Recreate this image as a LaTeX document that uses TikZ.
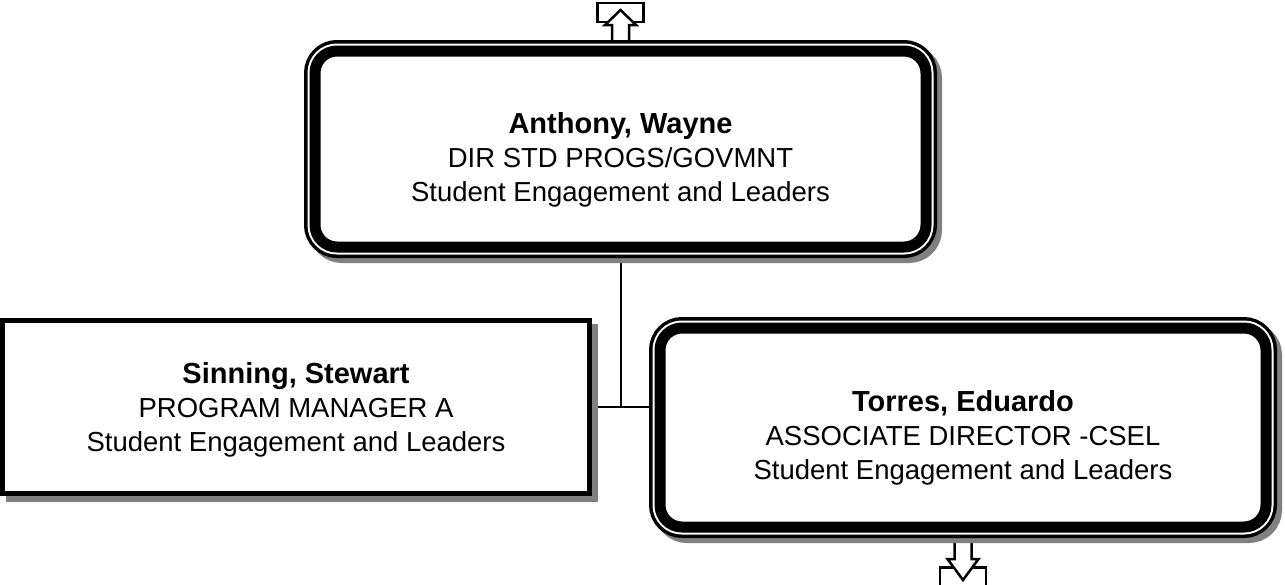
\documentclass[tikz,border=0pt]{standalone}
\usepackage{fontspec}
\setmainfont{Liberation Sans}
\usetikzlibrary{calc,backgrounds}
\definecolor{shadowgray}{RGB}{128,128,128}
\newcommand{\staffname}[1]{{\fontsize{29}{34}\selectfont\bfseries #1}}

\begin{document}
\begin{tikzpicture}[x=1pt, y=-1pt,
  rbox/.style={draw=black, fill=white, line width=11pt, rounded corners=22pt, inner sep=0pt,
    preaction={draw=shadowgray, line width=22pt, transform canvas={shift={(5pt,-5pt)}}},
    preaction={draw=black, line width=22pt},
    preaction={draw=white, line width=15pt}},
  sbox/.style={draw=black, fill=white, line width=5pt, inner sep=0pt,
    preaction={draw=shadowgray, fill=shadowgray, line width=5pt, transform canvas={shift={(6pt,-6pt)}}}},
  boxtext/.style={align=center, font=\fontsize{27.5}{34}\selectfont},
  tabarrow/.style={draw=black, fill=white, line width=2.5pt, line join=miter},
  link/.style={draw=black, line width=2pt},
]
\useasboundingbox (0,0) rectangle (1285,584);

% ---------- boxes ----------
\node[rbox, minimum width=611pt, minimum height=196pt] (anthony) at (620.5,149) {};
\node[sbox, minimum width=587pt, minimum height=173pt] (sinning) at (296,407) {};
\node[rbox, minimum width=606pt, minimum height=199pt] (torres) at (963,427.5) {};

\node[boxtext] (anthonytext) at ($(anthony.center)+(0,11)$)
  {\staffname{Anthony, Wayne}\\ DIR STD PROGS/GOVMNT\\ Student Engagement and Leaders};
\node[boxtext] (sinningtext) at ($(sinning.center)+(0,3)$)
  {\staffname{Sinning, Stewart}\\ PROGRAM MANAGER A\\ Student Engagement and Leaders};
\node[boxtext] (torrestext) at ($(torres.center)+(0,10)$)
  {\staffname{Torres, Eduardo}\\ ASSOCIATE DIRECTOR -CSEL\\ Student Engagement and Leaders};

% ---------- connectors ----------
\coordinate (junction) at (anthony.south |- sinning.east);
\begin{scope}[on background layer]
  \draw[link] (anthony.south) -- (junction);
  \draw[link] (sinning.east) -- (torres.west |- sinning.east);
  % more above / more below
  \draw[tabarrow] ($(anthony.north)+(-23,-42.5)$) rectangle ($(anthony.north)+(23,-23.5)$);
  \draw[tabarrow] ($(anthony.north)+(-8.5,-3)$) -- ++(0,-17.5) -- ++(-7,0)
    -- ++(15.5,-15) -- ++(15.5,15) -- ++(-7,0) -- ++(0,17.5);
  \draw[tabarrow] ($(torres.south)+(-23,35)$) rectangle ($(torres.south)+(23,54)$);
  \draw[tabarrow] ($(torres.south)+(-8.5,3)$) -- ++(0,23.5) -- ++(-7,0)
    -- ++(15.5,21) -- ++(15.5,-21) -- ++(-7,0) -- ++(0,-23.5);
\end{scope}
\end{tikzpicture}
\end{document}
